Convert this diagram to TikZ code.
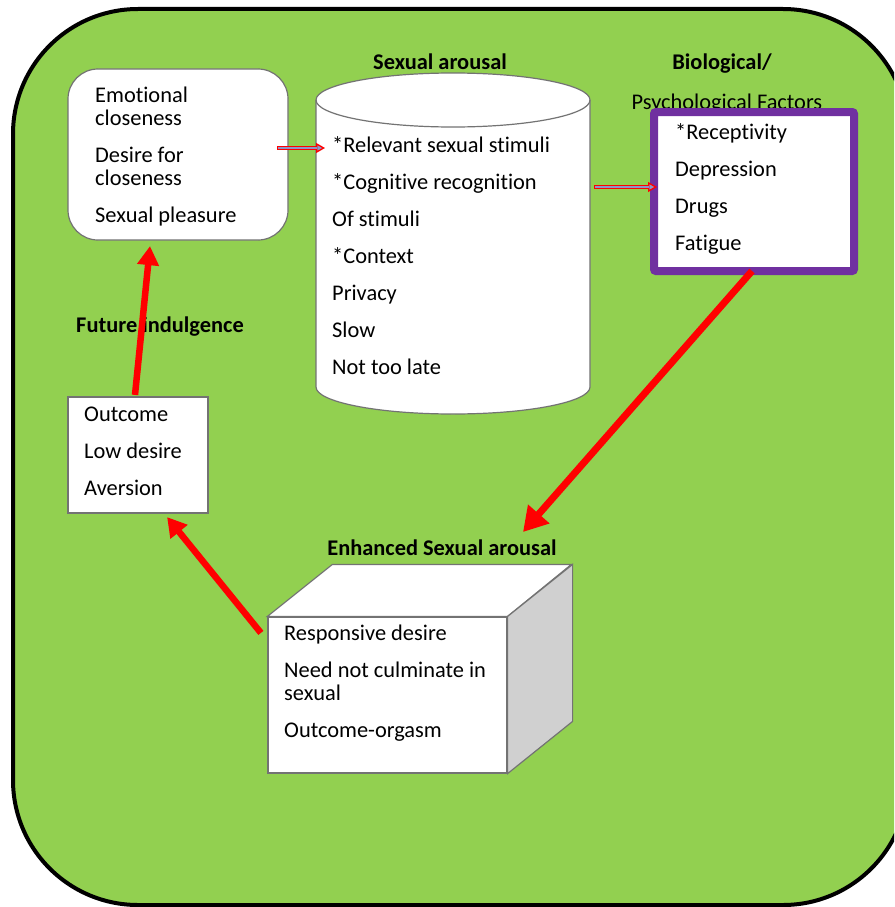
\documentclass[tikz,border=0pt]{standalone}
\usepackage{fontspec}
\setmainfont{Carlito}[Ligatures=NoCommon]
\usetikzlibrary{arrows.meta,calc}
\definecolor{bggreen}{RGB}{146,208,80}
\definecolor{facpurple}{RGB}{112,48,160}
\definecolor{sidegrey}{RGB}{208,208,208}
\definecolor{edgegrey}{RGB}{115,115,115}
\definecolor{pipefill}{RGB}{140,150,200}

\begin{document}
\begin{tikzpicture}[x=1pt,y=1pt,yscale=-1,xscale=1,
  item/.style={font=\fontsize{22.4}{23}\selectfont, align=left, anchor=north west, inner sep=0pt},
  head/.style={font=\fontsize{22.4}{23}\selectfont\bfseries, anchor=base, inner sep=0pt},
  box/.style={draw=edgegrey, line width=1.2pt, fill=white},
  bigarrow/.style={draw=red, line width=6.5pt, -{Triangle[length=19pt,width=21pt]}},
  pipe/.style={draw=red, line width=4.5pt, -{Triangle[length=9pt,width=10pt,line width=1.3pt,fill=pipefill]}, postaction={draw=pipefill, line width=2pt, -, shorten >=8pt, shorten <=1.2pt}}]
\useasboundingbox (0,0) rectangle (894,907);

%Rounded Rect (background)
\begin{scope}
\clip (0,0) rectangle (894,907);
\draw [line width=4pt, fill=bggreen, rounded corners=125pt] (13,9) rectangle (908,905) ;
\end{scope}

%Titles
\node [head] (sxa) at (440,70) {Sexual arousal};
\node [head] (biol) at (722,70) {Biological/};
\node [head, font=\fontsize{22.4}{23}\selectfont] (psyf) at (727,109.5) {Psychological Factors};
\node [head] (futi) at (160,332) {Future indulgence};
\node [head] (enh) at (442,555) {Enhanced Sexual arousal};

%Rounded Rect
\node [box, rounded corners=30pt, minimum width=220pt, minimum height=171pt] (emo) at (178,154.5) {};
\node [item] (emotxt) at (95,86.3) {Emotional\\closeness\\[14pt]Desire for\\closeness\\[14pt]Sexual pleasure};

%Shape: Can
\draw [box] (316,100) .. controls (316,85.1) and (377.3,73) .. (453,73) .. controls (528.7,73) and (590,85.1) .. (590,100) -- (590,387) .. controls (590,401.9) and (528.7,414) .. (453,414) .. controls (377.3,414) and (316,401.9) .. (316,387) -- cycle ;
\draw [draw=edgegrey, line width=1.2pt] (316,100) .. controls (316,114.9) and (377.3,127) .. (453,127) .. controls (528.7,127) and (590,114.9) .. (590,100) ;
\node [item] (sxatxt) at (332,136.3) {*Relevant sexual stimuli\\[14pt]*Cognitive recognition\\[14pt]Of stimuli\\[14pt]*Context\\[14pt]Privacy\\[14pt]Slow\\[14pt]Not too late};
\coordinate (cylin) at (325,148);
\coordinate (cylout) at (594,187);

%Rect (factors)
\node [draw=facpurple, line width=8pt, fill=white, rounded corners=2pt, minimum width=200pt, minimum height=159pt] (bio) at (754,191.5) {};
\node [item] (biotxt) at (675,123) {*Receptivity\\[14pt]Depression\\[14pt]Drugs\\[14pt]Fatigue};

%Rect (outcome)
\node [box, minimum width=140pt, minimum height=116pt] (outc) at (138,455) {};
\node [item] (outctxt) at (84,406.5) {Outcome\\[14pt]Low desire\\[14pt]Aversion};

%Shape: Cube
\node [box, minimum width=239pt, minimum height=156pt] (cube) at (387.5,695) {};
\draw [box] (cube.north west) -- ++(65,-52) -- ++(239,0) -- (cube.north east) -- cycle ;
\draw [box, fill=sidegrey] (cube.north east) -- ++(65,-52) -- ++(0,157) -- (cube.south east) -- cycle ;
\node [item] (cubetxt) at (284,624.3) {Responsive desire\\[14pt]Need not culminate in\\sexual\\[14pt]Outcome-orgasm};
\coordinate (enhin) at (523,532);

%Straight Lines
\draw [pipe] ($(emo.east)+(-11.5,-6.5)$) -- (cylin) ;
\draw [pipe] (cylout) -- ($(bio.west)+(7,-4.5)$) ;
\draw [bigarrow] ($(outc.north)+(-3,-1.5)$) -- ($(emo.south)+(-28,5.5)$) ;
\draw [bigarrow, line width=7pt, -{Triangle[length=24pt,width=27pt]}] ($(bio.south)+(-2,-4)$) -- (enhin) ;
\draw [bigarrow] ($(cube.north west)+(-6.5,16.5)$) -- ($(outc.south east)+(-41.5,3.5)$) ;

\end{tikzpicture}
\end{document}
